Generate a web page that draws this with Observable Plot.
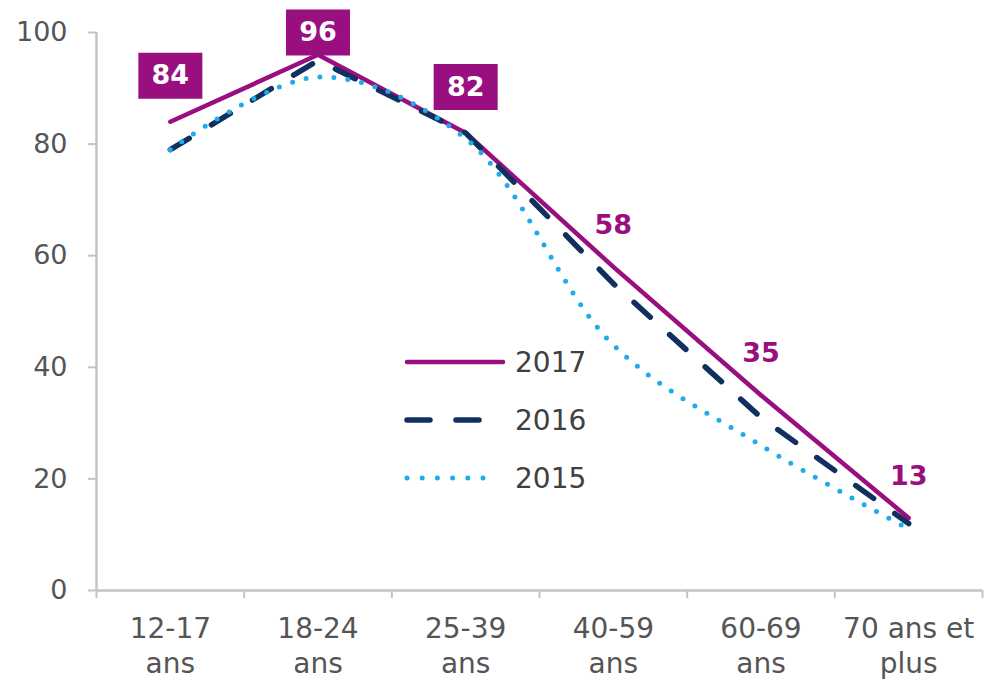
<!DOCTYPE html>
<html><head><meta charset="utf-8">
<script src="https://cdn.jsdelivr.net/npm/d3@7"></script>
<script src="https://cdn.jsdelivr.net/npm/@observablehq/plot@0.6"></script>
<style>
body{margin:0;background:#fff}
#wrap{position:relative;width:984px;height:683px}
#legend{position:absolute;left:0;top:0;pointer-events:none}
</style>
</head><body><div id="wrap"></div>
<script>
// ---- data ----
const categories = ["12-17 ans","18-24 ans","25-39 ans","40-59 ans","60-69 ans","70 ans et plus"];
const tickLabels = ["12-17\nans","18-24\nans","25-39\nans","40-59\nans","60-69\nans","70 ans et\nplus"];
const years = ["2017","2016","2015"];
const values2017 = [84,96,82,58,35,13];
const values2016 = [79,95,82,55,31,12];
const values2015 = [79,92,81,44,26,11];
const boxedLabels = [true,true,true,false,false,false];
const yTicks = [0,20,40,60,80,100];

// ---- styles ----
const styles = {
  "2017": {stroke:"#990f80", strokeWidth:4.5, strokeDasharray:null, curve:"linear"},
  "2016": {stroke:"#12305f", strokeWidth:5.5, strokeDasharray:"22 26", curve:"linear"},
  "2015": {stroke:"#1faaeb", strokeWidth:5, strokeDasharray:"0 14", curve:"catmull-rom"}
};
const seriesValues = {"2017":values2017, "2016":values2016, "2015":values2015};
const rowsOf = y => categories.map((c,i)=>({year:y, cat:c, i, value:seriesValues[y][i], boxed:boxedLabels[i]}));
const purple = "#990f80";
const axisGray = "#c4c4c4";
const textGray = "#555555";

const boxSymbol = {draw(ctx){ ctx.rect(-32,-23,64,46); }};
const xPos = d => d.i + 0.5;

const lineMarks = years.map(y => Plot.line(rowsOf(y), {
  x: xPos, y: "value",
  stroke: styles[y].stroke, strokeWidth: styles[y].strokeWidth,
  strokeDasharray: styles[y].strokeDasharray, strokeLinecap: "round", strokeLinejoin: "round",
  curve: styles[y].curve
}));

const labelRows = rowsOf("2017");
const boxed = labelRows.filter(d => d.boxed);
const plain = labelRows.filter(d => !d.boxed);

const chart = Plot.plot({
  width: 984, height: 683,
  marginLeft: 96, marginRight: 2, marginTop: 32, marginBottom: 93,
  style: {fontFamily: "DejaVu Sans, Verdana, sans-serif", background: "#fff"},
  x: {type: "linear", domain: [0, categories.length], axis: null},
  y: {domain: [0, 100], axis: null},
  marks: [
    Plot.axisY({ticks: yTicks, tickSize: 8, tickPadding: 21, stroke: axisGray, strokeWidth: 2, fill: textGray, fontSize: 27, label: null}),
    Plot.axisX({ticks: d3.range(categories.length + 1), tickSize: 8, tickFormat: () => "", stroke: axisGray, strokeWidth: 2, label: null}),
    Plot.axisX({ticks: categories.map((c,i)=>i+0.5), tickSize: 0, tickPadding: 23, tickFormat: v => tickLabels[Math.floor(v)], lineHeight: 1.25, fill: textGray, fontSize: 28, label: null}),
    Plot.ruleX([0], {stroke: axisGray, strokeWidth: 2.5}),
    Plot.ruleY([0], {stroke: axisGray, strokeWidth: 2.5}),
    ...lineMarks,
    Plot.dot(boxed, {x: xPos, y: d => Math.min(d.value + 8.25, 100), symbol: boxSymbol, r: 10, fill: purple, stroke: null}),
    Plot.text(boxed, {x: xPos, y: d => Math.min(d.value + 8.25, 100), text: d => String(d.value), fill: "#fff", fontWeight: "bold", fontSize: 27, lineAnchor: "middle"}),
    Plot.text(plain, {x: xPos, y: d => d.value + 7.5, text: d => String(d.value), fill: purple, fontWeight: "bold", fontSize: 27, lineAnchor: "middle"})
  ]
});
const wrap = document.getElementById("wrap");
wrap.appendChild(chart);

// ---- legend (overlay inside plot area) ----
const ns = "http://www.w3.org/2000/svg";
const leg = document.createElementNS(ns, "svg");
leg.setAttribute("id", "legend");
leg.setAttribute("width", 984); leg.setAttribute("height", 683);
years.forEach((y, k) => {
  const cy = 362 + k * 58;
  const ln = document.createElementNS(ns, "line");
  ln.setAttribute("x1", 407); ln.setAttribute("x2", y === "2015" ? 497 : (y === "2016" ? 481 : 503));
  ln.setAttribute("y1", cy); ln.setAttribute("y2", cy);
  ln.setAttribute("stroke", styles[y].stroke);
  ln.setAttribute("stroke-width", styles[y].strokeWidth);
  ln.setAttribute("stroke-linecap", "round");
  if (styles[y].strokeDasharray) ln.setAttribute("stroke-dasharray", y === "2016" ? "23 26" : "0 15.2");
  leg.appendChild(ln);
  const tx = document.createElementNS(ns, "text");
  tx.setAttribute("x", 515); tx.setAttribute("y", cy); tx.setAttribute("dy", "0.36em");
  tx.setAttribute("font-family", "DejaVu Sans, Verdana, sans-serif");
  tx.setAttribute("font-size", 28); tx.setAttribute("fill", "#404040");
  tx.textContent = y;
  leg.appendChild(tx);
});
wrap.appendChild(leg);
</script>
</body></html>
